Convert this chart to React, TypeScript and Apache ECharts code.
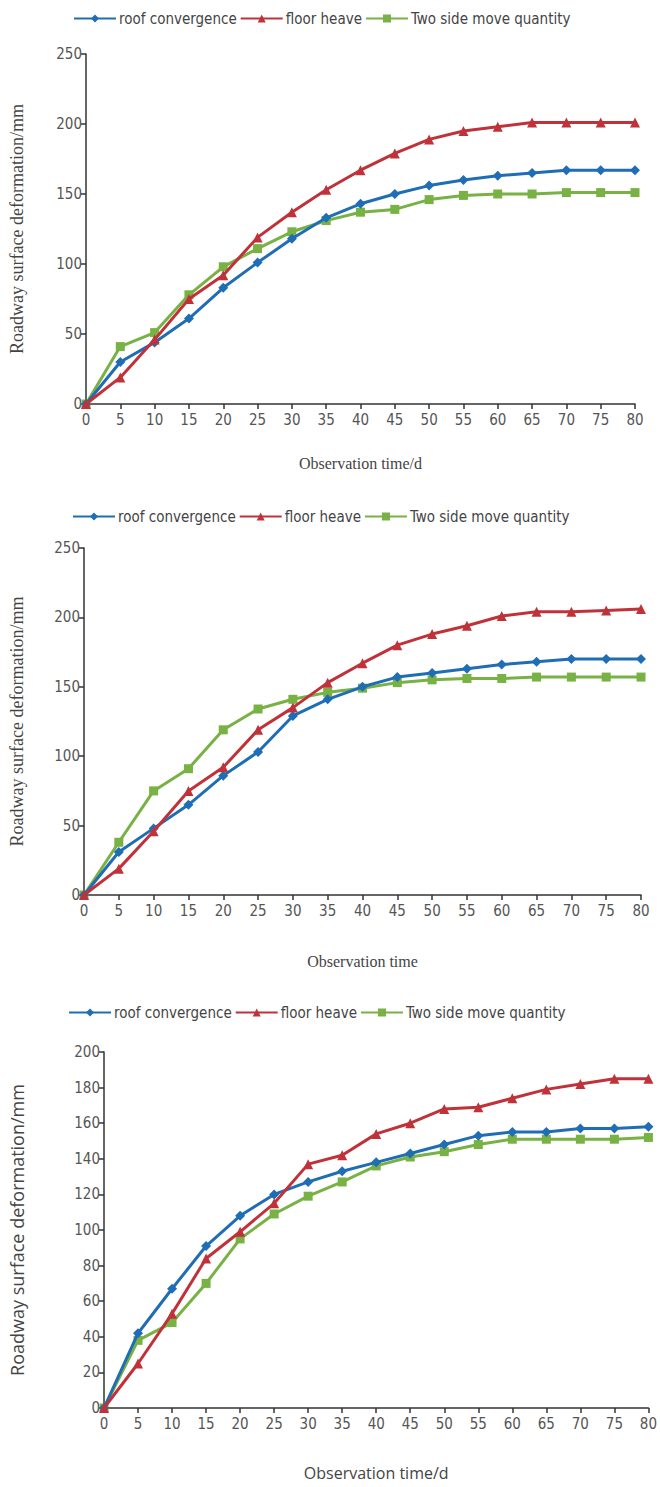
import React, { useEffect, useRef } from "react";
import * as echarts from "echarts";

const times = [0, 5, 10, 15, 20, 25, 30, 35, 40, 45, 50, 55, 60, 65, 70, 75, 80];
const seriesNames = ["roof convergence", "floor heave", "Two side move quantity"];

const roof1 = [0, 30, 44, 61, 83, 101, 118, 133, 143, 150, 156, 160, 163, 165, 167, 167, 167];
const floor1 = [0, 19, 46, 75, 92, 119, 137, 153, 167, 179, 189, 195, 198, 201, 201, 201, 201];
const side1 = [0, 41, 51, 78, 98, 111, 123, 131, 137, 139, 146, 149, 150, 150, 151, 151, 151];

const roof2 = [0, 31, 48, 65, 86, 103, 129, 141, 150, 157, 160, 163, 166, 168, 170, 170, 170];
const floor2 = [0, 19, 46, 75, 92, 119, 135, 153, 167, 180, 188, 194, 201, 204, 204, 205, 206];
const side2 = [0, 38, 75, 91, 119, 134, 141, 146, 149, 153, 155, 156, 156, 157, 157, 157, 157];

const roof3 = [0, 42, 67, 91, 108, 120, 127, 133, 138, 143, 148, 153, 155, 155, 157, 157, 158];
const floor3 = [0, 25, 53, 84, 99, 115, 137, 142, 154, 160, 168, 169, 174, 179, 182, 185, 185];
const side3 = [0, 38, 48, 70, 95, 109, 119, 127, 136, 141, 144, 148, 151, 151, 151, 151, 152];

const yTicks12 = { max: 250, interval: 50 };
const yTicks3 = { max: 200, interval: 20 };

const colors = ["#1f6db5", "#c0323a", "#78b144"];
const symbols = ["diamond", "triangle", "rect"];
const symbolSizes = [10, 10, 9];

export default function App() {
  const ref = useRef<HTMLDivElement>(null);
  useEffect(() => {
    if (!ref.current) return;
    const chart = echarts.init(ref.current, null, { renderer: "svg" });
    const narrow = "'Liberation Sans Narrow', 'DejaVu Sans Condensed', Roboto, sans-serif";
    const serif = "'Liberation Serif', 'DejaVu Serif', serif";
    const sans = "'Open Sans', 'DejaVu Sans', sans-serif";

    const grids = [
      { left: 78, top: 54, width: 557, height: 350 },
      { left: 76, top: 548, width: 565, height: 347 },
      { left: 95, top: 1052, width: 554, height: 356 },
    ];
    const xNames = ["Observation time/d", "Observation time", "Observation time/d"];
    const xNameFonts = [serif, serif, sans];
    const xNameGaps = [51, 58, 57];
    const yNameGaps = [60, 58, 78];
    const yNameSizes = [18, 18, 18];
    const yCfg = [yTicks12, yTicks12, yTicks3];
    const data = [
      [roof1, floor1, side1],
      [roof2, floor2, side2],
      [roof3, floor3, side3],
    ];
    const legendPos = [
      { left: 68, top: 6 },
      { left: 67, top: 504 },
      { left: 63, top: 1000 },
    ];

    const axisLine = { show: true, lineStyle: { color: "#333", width: 1.5 } };
    const axisTick = { show: true, inside: false, length: 5, lineStyle: { color: "#333", width: 1.5 } };
    const axisLabel = { color: "#555", fontFamily: narrow, fontSize: 15 };

    const series: any[] = [];
    data.forEach((group, gi) => {
      group.forEach((vals, si) => {
        series.push({
          type: "line",
          name: seriesNames[si],
          xAxisIndex: gi,
          yAxisIndex: gi,
          data: times.map((t, i) => [t, vals[i]]),
          symbol: symbols[si],
          symbolSize: symbolSizes[si],
          lineStyle: { color: colors[si], width: 3 },
          itemStyle: { color: colors[si] },
          z: si === 2 ? 2 : si === 0 ? 3 : 4,
        });
      });
    });

    chart.setOption({
      animation: false,
      backgroundColor: "#ffffff",
      legend: legendPos.map((p) => ({
        ...p,
        data: seriesNames,
        itemWidth: 42,
        itemHeight: 10,
        itemGap: 3,
        textStyle: { fontFamily: narrow, fontSize: 15, color: "#444", padding: [0, 0, 0, -2] },
      })),
      grid: grids,
      xAxis: grids.map((_, gi) => ({
        type: "value",
        gridIndex: gi,
        min: 0,
        max: 80,
        interval: 5,
        name: xNames[gi],
        nameLocation: "middle",
        nameGap: xNameGaps[gi],
        nameTextStyle: { fontFamily: xNameFonts[gi], fontSize: 16, color: "#444" },
        axisLine,
        axisTick,
        axisLabel: { ...axisLabel, margin: 8 },
        splitLine: { show: false },
      })),
      yAxis: grids.map((_, gi) => ({
        type: "value",
        gridIndex: gi,
        min: 0,
        max: yCfg[gi].max,
        interval: yCfg[gi].interval,
        name: "Roadway surface deformation/mm",
        nameLocation: "middle",
        nameGap: yNameGaps[gi],
        nameTextStyle: { fontFamily: gi === 2 ? sans : serif, fontSize: yNameSizes[gi], color: "#444" },
        axisLine,
        axisTick,
        axisLabel: { ...axisLabel, margin: 4 },
        splitLine: { show: false },
      })),
      series,
    });
    return () => chart.dispose();
  }, []);
  return (
    <div
      ref={ref}
      style={{ position: "absolute", left: 0, top: 0, width: 660, height: 1487 }}
    />
  );
}
